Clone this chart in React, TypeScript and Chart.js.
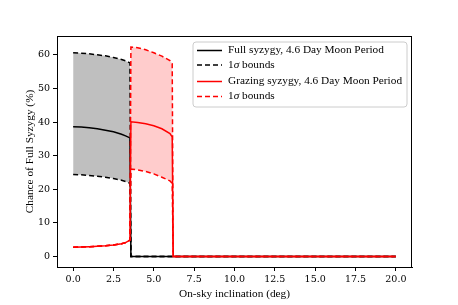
import React, { useEffect, useRef } from "react";
import { Chart, registerables } from "chart.js";

Chart.register(...registerables);

const xValues = [0, 0.5, 1, 1.5, 2, 2.5, 3, 3.25, 3.52, 3.58, 4, 4.5, 5, 5.5, 6, 6.14, 6.2, 10, 15, 20];
const fullMean = [38.6, 38.5, 38.3, 38.0, 37.6, 37.1, 36.4, 35.9, 35.3, 0, 0, 0, 0, 0, 0, 0, 0, 0, 0, 0];
const fullUpper = [60.6, 60.5, 60.3, 60.0, 59.7, 59.2, 58.6, 58.2, 57.6, 0, 0, 0, 0, 0, 0, 0, 0, 0, 0, 0];
const fullLower = [24.4, 24.3, 24.1, 23.9, 23.6, 23.2, 22.7, 22.3, 21.8, 0, 0, 0, 0, 0, 0, 0, 0, 0, 0, 0];
const grazMean = [2.8, 2.85, 2.95, 3.05, 3.2, 3.45, 3.8, 4.15, 4.9, 40.1, 39.9, 39.5, 38.9, 38.0, 36.6, 35.6, 0, 0, 0, 0];
const grazUpper = [2.8, 2.85, 2.95, 3.05, 3.2, 3.45, 3.8, 4.15, 4.9, 62.3, 62.1, 61.5, 60.6, 59.6, 58.3, 57.4, 0, 0, 0, 0];
const grazLower = [2.8, 2.85, 2.95, 3.05, 3.2, 3.45, 3.8, 4.15, 4.9, 26.0, 25.8, 25.3, 24.6, 23.6, 22.5, 21.8, 0, 0, 0, 0];

const legendLabels = [
  "Full syzygy, 4.6 Day Moon Period",
  "1\u03c3 bounds",
  "Grazing syzygy, 4.6 Day Moon Period",
  "1\u03c3 bounds",
];
const xTicks = [0, 2.5, 5, 7.5, 10, 12.5, 15, 17.5, 20];
const yTicks = [0, 10, 20, 30, 40, 50, 60];
const xTitle = "On-sky inclination (deg)";
const yTitle = "Chance of Full Syzygy (%)";

const FONT = "'Liberation Serif', serif";
const TICK_FONT = "'DejaVu Serif', serif";

const pts = (ys: number[]) => xValues.map((x, i) => ({ x, y: ys[i] }));

const boxPlugin = {
  id: "boxPlugin",
  afterDraw(chart: any) {
    const { ctx, chartArea: a } = chart;
    ctx.save();
    ctx.strokeStyle = "#000";
    ctx.lineWidth = 1;
    ctx.strokeRect(Math.round(a.left) + 0.5, Math.round(a.top) + 0.5, Math.round(a.right - a.left) - 1, Math.round(a.bottom - a.top));
    ctx.restore();
  },
};

const legendPlugin = {
  id: "customLegend",
  afterDraw(chart: any) {
    const ctx = chart.ctx;
    const left = 193, top = 42, w = 214, h = 65;
    ctx.save();
    ctx.beginPath();
    const r = 3;
    ctx.moveTo(left + r, top);
    ctx.arcTo(left + w, top, left + w, top + h, r);
    ctx.arcTo(left + w, top + h, left, top + h, r);
    ctx.arcTo(left, top + h, left, top, r);
    ctx.arcTo(left, top, left + w, top, r);
    ctx.closePath();
    ctx.fillStyle = "rgba(255,255,255,0.8)";
    ctx.fill();
    ctx.strokeStyle = "#cccccc";
    ctx.lineWidth = 1;
    ctx.stroke();
    const rows = [50.5, 65, 81.5, 96.5];
    const colors = ["#000", "#000", "#ff0000", "#ff0000"];
    const dashes = [[], [5, 3], [], [5, 3]];
    legendLabels.forEach((lab, i) => {
      const y = rows[i];
      ctx.beginPath();
      ctx.setLineDash(dashes[i]);
      ctx.strokeStyle = colors[i];
      ctx.lineWidth = 1.5;
      ctx.moveTo(197, y);
      ctx.lineTo(222, y);
      ctx.stroke();
      ctx.setLineDash([]);
      ctx.fillStyle = "#000";
      ctx.textBaseline = "middle";
      let x = 228;
      const parts = lab.split("\u03c3");
      parts.forEach((p, j) => {
        ctx.font = `11.3px ${FONT}`;
        ctx.fillText(p, x, y);
        x += ctx.measureText(p).width;
        if (j < parts.length - 1) {
          ctx.font = `italic 11.3px ${FONT}`;
          ctx.fillText("\u03c3", x, y);
          x += ctx.measureText("\u03c3").width;
        }
      });
    });
    ctx.restore();
  },
};

export default function App() {
  const ref = useRef<HTMLCanvasElement>(null);
  useEffect(() => {
    if (!ref.current) return;
    const dashed = [5, 3];
    const chart = new Chart(ref.current, {
      type: "line",
      data: {
        datasets: [
          { label: legendLabels[0], data: pts(fullMean), borderColor: "#000", borderWidth: 1.5, pointRadius: 0, fill: false, order: 4 },
          { label: legendLabels[1], data: pts(fullUpper), borderColor: "#000", borderWidth: 1.5, borderDash: dashed, pointRadius: 0, fill: { target: 2 }, backgroundColor: "rgba(0,0,0,0.25)", order: 5 },
          { label: "", data: pts(fullLower), borderColor: "#000", borderWidth: 1.5, borderDash: dashed, pointRadius: 0, fill: false, order: 6 },
          { label: legendLabels[2], data: pts(grazMean), borderColor: "#ff0000", borderWidth: 1.5, pointRadius: 0, fill: false, order: 0 },
          { label: legendLabels[3], data: pts(grazUpper), borderColor: "#ff0000", borderWidth: 1.5, borderDash: dashed, pointRadius: 0, fill: { target: 5 }, backgroundColor: "rgba(255,0,0,0.2)", order: 1 },
          { label: "", data: pts(grazLower), borderColor: "#ff0000", borderWidth: 1.5, borderDash: dashed, pointRadius: 0, fill: false, order: 2 },
        ],
      },
      options: {
        responsive: false,
        animation: false,
        layout: { padding: { left: 0, top: 36, right: 46, bottom: 0 } },
        plugins: { legend: { display: false }, tooltip: { enabled: false } },
        scales: {
          x: {
            type: "linear",
            min: -1,
            max: 21,
            afterFit: (s: any) => { s.height = 38; },
            afterBuildTicks: (s: any) => { s.ticks = xTicks.map((v) => ({ value: v })); },
            ticks: { color: "#000", font: { family: TICK_FONT, size: 9.5 }, padding: 3, maxRotation: 0, autoSkip: false, callback: (v: any) => Number(v).toFixed(1) },
            grid: { drawOnChartArea: false, drawTicks: true, tickLength: 4, color: "#000" },
            border: { color: "#000" },
            title: { display: true, text: xTitle, color: "#000", font: { family: FONT, size: 11.3 }, padding: { top: 0, bottom: 4 } },
          },
          y: {
            type: "linear",
            min: -3.1,
            max: 65.6,
            afterFit: (s: any) => { s.width = 57; },
            afterBuildTicks: (s: any) => { s.ticks = yTicks.map((v) => ({ value: v })); },
            ticks: { color: "#000", font: { family: TICK_FONT, size: 9.5 }, padding: 3, autoSkip: false, callback: (v: any) => String(v) },
            grid: { drawOnChartArea: false, drawTicks: true, tickLength: 4, color: "#000" },
            border: { color: "#000" },
            title: { display: true, text: yTitle, color: "#000", font: { family: FONT, size: 11.3 }, padding: { top: 23, bottom: 0 } },
          },
        },
      },
      plugins: [boxPlugin, legendPlugin],
    } as any);
    return () => chart.destroy();
  }, []);
  return (
    <div style={{ position: "fixed", left: 0, top: 0, width: 458, height: 305, background: "#fff" }}>
      <canvas ref={ref} width={458} height={305} style={{ width: 458, height: 305 }} />
    </div>
  );
}
